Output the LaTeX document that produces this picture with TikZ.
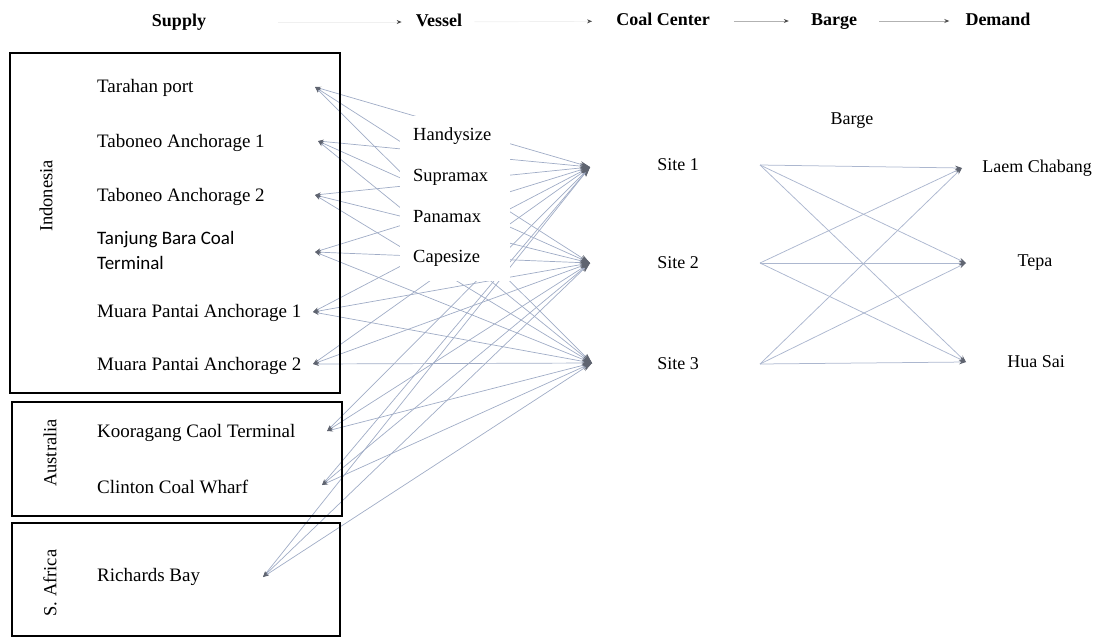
\documentclass[tikz,border=0pt]{standalone}
\usepackage{fontspec}
\setmainfont{Liberation Serif}
\newfontfamily\calib{Carlito}
\usetikzlibrary{arrows.meta}
\definecolor{linec}{RGB}{160,172,198}
\definecolor{bargec}{RGB}{172,183,207}
\definecolor{tipc}{RGB}{95,100,112}
\begin{document}
\begin{tikzpicture}[x=1pt,y=-1pt,
  lab/.style={anchor=west, font=\fontsize{19}{22}\selectfont, inner sep=0pt},
  vlab/.style={anchor=west, font=\fontsize{18.5}{21}\selectfont, inner sep=0pt},
  slab/.style={font=\fontsize{18}{21}\selectfont, inner sep=0pt},
  hdr/.style={font=\bfseries\fontsize{18}{21}\selectfont, inner sep=2pt, text height=12pt, text depth=4pt},
  rlab/.style={rotate=90, font=\fontsize{18.5}{21}\selectfont, inner sep=0pt},
  regionbox/.style={draw=black, line width=2.3pt, inner sep=0pt},
  flow/.style={draw=linec, line width=0.7pt,
    arrows={Stealth[length=6pt,width=4pt,color=tipc]-Stealth[length=10pt,width=6pt,color=tipc]}},
  bflow/.style={draw=bargec, line width=0.75pt,
    arrows={-Stealth[length=7pt,width=4.5pt,color=tipc]}},
  hline/.style={draw=black!30, line width=0.7pt, arrows={-Stealth[length=5pt,width=4pt,color=black!70]}},
  hfaint/.style={draw=black!6, line width=0.7pt, arrows={-Stealth[length=5pt,width=4pt,color=black!70]}}]
\useasboundingbox (0,0) rectangle (1112,638);

% ---- header ----
\node[hdr] (supplyH) at (179,22) {Supply};
\node[hdr] (vesselH) at (439,22) {Vessel};
\node[hdr] (coalH) at (663,21) {Coal Center};
\node[hdr] (bargeH) at (834,21) {Barge};
\node[hdr] (demandH) at (998,21) {Demand};
\draw[hfaint, shorten <=70pt, shorten >=12pt] (supplyH) -- (vesselH);
\draw[hfaint, shorten <=10pt, shorten >=22pt] (vesselH) -- (coalH);
\draw[hline, shorten <=22pt, shorten >=20pt] (coalH) -- (bargeH);
\draw[hline, shorten <=20pt, shorten >=14pt] (bargeH) -- (demandH);

% ---- end points ----
\coordinate (pT) at (315,87);
\coordinate (pTA1) at (318,141);
\coordinate (pTA2) at (315,195);
\coordinate (pTB) at (315,252);
\coordinate (pMP1) at (313,312);
\coordinate (pMP2) at (313,364);
\coordinate (pKC) at (327,431);
\coordinate (pCC) at (322,485);
\coordinate (pRB) at (263,577);
\coordinate (c1) at (590,167);
\coordinate (c2) at (590,263);
\coordinate (c3) at (592,363);

% ---- supply -> coal center flows ----
\foreach \p in {pT,pTA1,pTA2,pTB,pMP1,pMP2,pKC,pCC,pRB}
  \foreach \c in {c1,c2,c3}
    \draw[flow] (\p) -- (\c);

% ---- vessel labels ----
\node[fill=white, minimum width=110pt, minimum height=165pt, inner sep=0pt] (vbox) at (455,198) {};
\node[vlab] (hs) at (413,136) {Handysize};
\node[vlab] (sm) at (413,177) {Supramax};
\node[vlab] (pm) at (413,217) {Panamax};
\node[vlab] (cs) at (413,258) {Capesize};

% ---- region boxes ----
\node[regionbox, minimum width=330pt, minimum height=340pt] (indobox) at (175,223) {};
\node[regionbox, minimum width=330pt, minimum height=114pt] (ausbox) at (177,459) {};
\node[regionbox, minimum width=328pt, minimum height=113pt] (safbox) at (176,579.5) {};
\node[rlab] (indo) at (46,196) {Indonesia};
\node[rlab] (aus) at (50,453) {Australia};
\node[rlab] (saf) at (50,583) {S. Africa};

% ---- supply labels ----
\node[lab] (tar) at (97,88) {Tarahan port};
\node[lab] (tab1) at (97,143) {Taboneo Anchorage 1};
\node[lab] (tab2) at (97,197) {Taboneo Anchorage 2};
\node[lab, font=\calib\fontsize{19}{25}\selectfont, align=left] (tbct) at (97,250) {Tanjung Bara Coal\\Terminal};
\node[lab] (mp1) at (97,313) {Muara Pantai Anchorage 1};
\node[lab] (mp2) at (97,366) {Muara Pantai Anchorage 2};
\node[lab] (kct) at (97,433) {Kooragang Caol Terminal};
\node[lab] (ccw) at (97,487) {Clinton Coal Wharf};
\node[lab] (rb) at (97,577) {Richards Bay};

% ---- sites ----
\node[slab] (s1) at (678,165) {Site 1};
\node[slab] (s2) at (678,263) {Site 2};
\node[slab] (s3) at (678,364) {Site 3};

% ---- barge ----
\node[slab] (bargeL) at (852,121) {Barge};
\coordinate (b1) at (760,165);
\coordinate (b2) at (760,263);
\coordinate (b3) at (760,364);
\coordinate (d1) at (962,168);
\coordinate (d2) at (966,263);
\coordinate (d3) at (966,362);
\foreach \b in {b1,b2,b3}
  \foreach \d in {d1,d2,d3}
    \draw[bflow] (\b) -- (\d);

% ---- demand ----
\node[slab] (lc) at (1037,168) {Laem Chabang};
\node[slab] (tepa) at (1035,263) {Tepa};
\node[slab] (hua) at (1036,362) {Hua Sai};
\end{tikzpicture}
\end{document}
